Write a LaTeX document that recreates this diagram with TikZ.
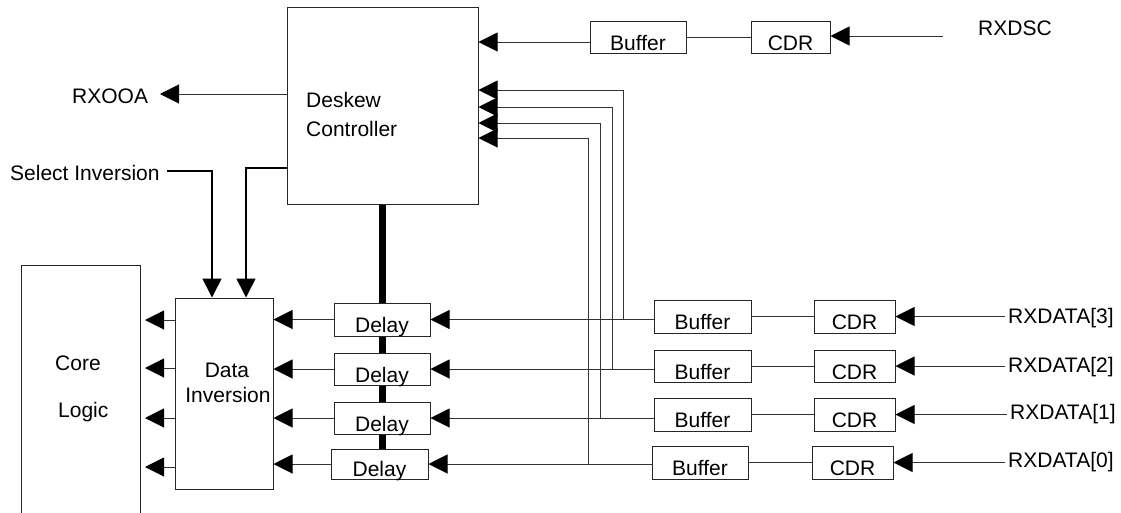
\documentclass[tikz,border=0pt]{standalone}
\usepackage{fontspec}
\setmainfont{Liberation Sans}
\usetikzlibrary{arrows.meta}
\begin{document}
\begin{tikzpicture}[x=1pt,y=-1pt,
  font=\fontsize{21}{25}\selectfont,
  ln/.style={draw=black!80, line width=1pt},
  arr/.style={ln, -{Triangle[length=19pt,width=19pt,color=black]}},
  tarr/.style={draw=black, line width=1.6pt, -{Triangle[length=19pt,width=19pt,color=black]}},
  bus/.style={draw=black, line width=7pt},
  box/.style={draw=black!85, line width=1pt, fill=white, rectangle, inner sep=0pt, text height=26pt, text depth=0pt},
  bigbox/.style={draw=black!85, line width=1pt, rectangle, inner sep=0pt},
  txt/.style={inner sep=0pt}]
\useasboundingbox (0,0) rectangle (1121,512);

% big blocks
\node[bigbox, minimum width=191pt, minimum height=197pt] (dsk) at (382.5,105.5) {};
\node[bigbox, minimum width=98pt, minimum height=191pt] (di) at (224,393.5) {};
\node[bigbox, minimum width=119pt, minimum height=275pt] (core) at (80.5,402.5) {};

\node[txt, anchor=base west] (dskA) at (306,107) {Deskew};
\node[txt, anchor=base west] (dskB) at (306,136) {Controller};
\node[txt, anchor=base] (diA) at (227,377) {Data};
\node[txt, anchor=base] (diB) at (228,402) {Inversion};
\node[txt, anchor=base west] (coreA) at (55,370) {Core};
\node[txt, anchor=base west] (coreB) at (58,417) {Logic};

% bus
\draw[bus] (dsk.south) -- (dsk.south |- 0,449);

% top row
\node[box, minimum width=96pt, minimum height=32pt] (bufT) at (638,37) {Buffer};
\node[box, minimum width=79pt, minimum height=32pt] (cdrT) at (790.5,37) {CDR};
\node[txt, anchor=base west] (rxdsc) at (978,35) {RXDSC};
\coordinate (rxdscL) at (943,36);
\coordinate (bufOut) at (590,42);

% delays
\node[box, minimum width=96pt, minimum height=33pt] (d3) at (382,319.5) {Delay};
\node[box, minimum width=96pt, minimum height=32pt] (d2) at (382,369) {Delay};
\node[box, minimum width=96pt, minimum height=32pt] (d1) at (382,418) {Delay};
\node[box, minimum width=97pt, minimum height=30pt, text height=25pt] (d0) at (379.5,464) {Delay};

% buffers
\node[box, minimum width=97pt, minimum height=33pt] (b3) at (702.5,316.5) {Buffer};
\node[box, minimum width=97pt, minimum height=32pt] (b2) at (702.5,366) {Buffer};
\node[box, minimum width=97pt, minimum height=33pt] (b1) at (702.5,414.5) {Buffer};
\node[box, minimum width=96pt, minimum height=33pt] (b0) at (700,462.5) {Buffer};

% CDRs
\node[box, minimum width=81pt, minimum height=33pt] (c3) at (854.5,316.5) {CDR};
\node[box, minimum width=81pt, minimum height=32pt] (c2) at (854.5,366) {CDR};
\node[box, minimum width=81pt, minimum height=33pt] (c1) at (854.5,414.5) {CDR};
\node[box, minimum width=81pt, minimum height=33pt] (c0) at (852.5,462.5) {CDR};

% input labels
\node[txt, anchor=base west] (rx3) at (1008,323) {RXDATA[3]};
\node[txt, anchor=base west] (rx2) at (1008,372) {RXDATA[2]};
\node[txt, anchor=base west] (rx1) at (1010,419) {RXDATA[1]};
\node[txt, anchor=base west] (rx0) at (1008,467) {RXDATA[0]};
\coordinate (in3) at (1005,316.5);
\coordinate (in2) at (1005,366);
\coordinate (in1) at (1007,414.5);
\coordinate (in0) at (1005,462.5);

% left labels
\node[txt, anchor=base west] (ooa) at (72,103) {RXOOA};
\coordinate (ooaTip) at (160,94);
\node[txt, anchor=base west] (sel) at (10,180) {Select Inversion};
\coordinate (selStart) at (167,171);
\coordinate (dskOut) at (287,168);

% top connections
\draw[arr] (rxdscL) -- (rxdscL -| cdrT.east);
\draw[ln] (cdrT.west) -- (bufT.east);
\draw[arr] (bufOut) -- (bufOut -| dsk.east);
\draw[arr] (dsk.west |- ooaTip) -- (ooaTip);
\draw[tarr] (selStart) -| ([xshift=-12pt]di.north);
\draw[tarr] (dskOut) -| ([xshift=22pt]di.north);

% rows
\foreach \r in {3,2,1,0}{
  \draw[arr] (in\r) -- (in\r -| c\r.east);
  \draw[ln] (c\r.west) -- (b\r.east);
  \draw[arr] (b\r.west |- d\r.east) -- (d\r.east);
  \draw[arr] (d\r.west) -- (d\r.west -| di.east);
}
\coordinate (co3) at (145,320);
\coordinate (co2) at (145,368);
\coordinate (co1) at (145,418);
\coordinate (co0) at (145,467);
\foreach \r in {3,2,1,0}{
  \draw[arr] (di.west |- co\r) -- (co\r);
}

% taps to deskew controller
\draw[arr] (d3.east -| 623,0) |- ([yshift=15.5pt]dsk.east);
\draw[arr] (d2.east -| 612,0) |- ([yshift=-1.5pt]dsk.east);
\draw[arr] (d1.east -| 600,0) |- ([yshift=-17.5pt]dsk.east);
\draw[arr] (d0.east -| 588,0) |- ([yshift=-32.5pt]dsk.east);
\end{tikzpicture}
\end{document}
